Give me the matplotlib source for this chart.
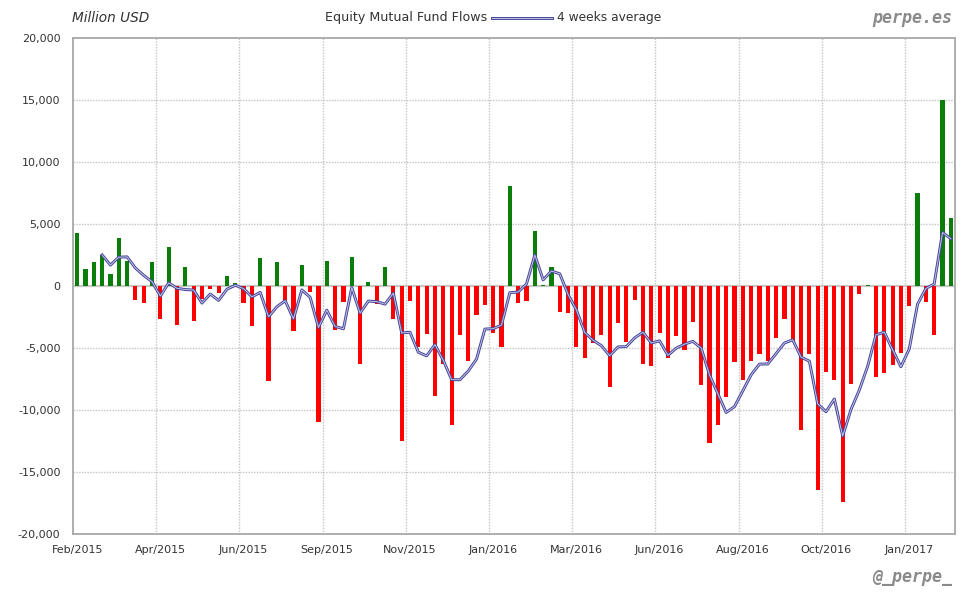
import matplotlib
matplotlib.use("Agg")
import matplotlib.pyplot as plt
from matplotlib.lines import Line2D
import numpy as np
import pandas as pd

# Weekly equity mutual fund flows (million USD), Feb/2015 .. Feb/2017
flows = [
    4250, 1350, 1900, 2500, 1000, 3900, 2000, -1100, -1400, 1900,
    -2650, 3150, -3150, 1500, -2800, -1050, -250, -550, 800, 250,
    -1350, -3200, 2250, -7650, 1900, -1250, -3600, 1700, -500, -11000,
    2000, -3550, -1250, 2300, -6250, 350, -1450, 1500, -2700, -12500,
    -1200, -4950, -3900, -8850, -6250, -11200, -3950, -6050, -2350, -1550,
    -3800, -4900, 8100, -1350, -1200, 4450, 80, 1500, -2100, -2200,
    -4900, -5800, -4600, -3950, -8150, -2950, -4500, -1150, -6300, -6450,
    -3800, -5800, -4000, -5150, -2900, -8000, -12650, -11200, -8950, -6100,
    -7550, -6050, -5500, -6050, -4200, -2650, -4450, -11650, -5500, -16450,
    -6950, -7550, -17450, -7900, -650, 80, -7300, -7000, -6350, -5400,
    -1600, 7500, -1300, -3950, 15000, 5500,
]
tick_labels = ["Feb/2015", "Apr/2015", "Jun/2015", "Sep/2015", "Nov/2015",
               "Jan/2016", "Mar/2016", "Jun/2016", "Aug/2016", "Oct/2016",
               "Jan/2017"]
tick_every = 10
y_ticks = [-20000, -15000, -10000, -5000, 0, 5000, 10000, 15000, 20000]

s = pd.Series(flows, dtype=float)
avg4 = s.rolling(4).mean()
x = np.arange(len(s))

GREEN = "#0a7d0a"
RED = "#ff0000"
LINE = "#45459a"
LINE_IN = "#c4c4e6"
GRID = "#c4c4c4"

fig = plt.figure(figsize=(9.8, 6.0), dpi=100)
ax = fig.add_axes([73/980, 1-534/600, (955-73)/980, (534-38)/600])

colors = [GREEN if v >= 0 else RED for v in s]
ax.bar(x, s, width=0.5, color=colors, zorder=3, linewidth=0)

# zero line
ax.axhline(0, color="#c8c8c8", lw=1.6, zorder=2)

# 4-week average line (double-line look)
ax.plot(x, avg4, color=LINE, lw=2.1, zorder=4, solid_joinstyle="round")
ax.plot(x, avg4, color=LINE_IN, lw=0.7, zorder=5, solid_joinstyle="round")

ax.set_xlim(-0.5, len(s) - 0.5)
ax.set_ylim(-20000, 20000)

# grid
tick_pos = np.arange(0, len(s), tick_every)[:len(tick_labels)]
for p in tick_pos[1:]:
    ax.axvline(p - 0.5, color=GRID, lw=1, ls=(0, (1, 1)), zorder=1)
for yv in y_ticks:
    if yv not in (0, -20000, 20000):
        ax.axhline(yv, color=GRID, lw=1, ls=(0, (1, 1)), zorder=1)

ax.set_xticks(tick_pos)
ax.set_xticklabels(tick_labels)
ax.set_yticks(y_ticks)
ax.set_yticklabels([f"{v:,}" for v in y_ticks])
ax.tick_params(axis="both", length=0, labelsize=8, colors="#333333")
ax.tick_params(axis="x", pad=8)
ax.tick_params(axis="y", pad=9)

for sp in ax.spines.values():
    sp.set_color("#a8a8a8")
    sp.set_linewidth(1.3)

# header texts
fig.text(72/980, 1-18/600, "Million USD", fontsize=9.8, style="italic",
         color="#333333", ha="left", va="center")
fig.text(487/980, 1-18/600, "Equity Mutual Fund Flows", fontsize=9.1,
         color="#333333", ha="right", va="center")
leg = Line2D([492/980, 552/980], [1-18/600, 1-18/600], transform=fig.transFigure,
             color=LINE, lw=2.1)
leg2 = Line2D([492/980, 552/980], [1-18/600, 1-18/600], transform=fig.transFigure,
              color=LINE_IN, lw=0.7)
fig.add_artist(leg)
fig.add_artist(leg2)
fig.text(557/980, 1-18/600, "4 weeks average", fontsize=8.8,
         color="#333333", ha="left", va="center")

fig.text(952/980, 1-18/600, "perpe.es", fontsize=12, family="DejaVu Sans Mono",
         weight="bold", style="italic", color="#8a8a8a", ha="right", va="center")
fig.text(952/980, 1-577/600, "@_perpe_", fontsize=12, family="DejaVu Sans Mono",
         weight="bold", style="italic", color="#8a8a8a", ha="right", va="center")

fig.savefig("out.png", dpi=100, facecolor="white")
